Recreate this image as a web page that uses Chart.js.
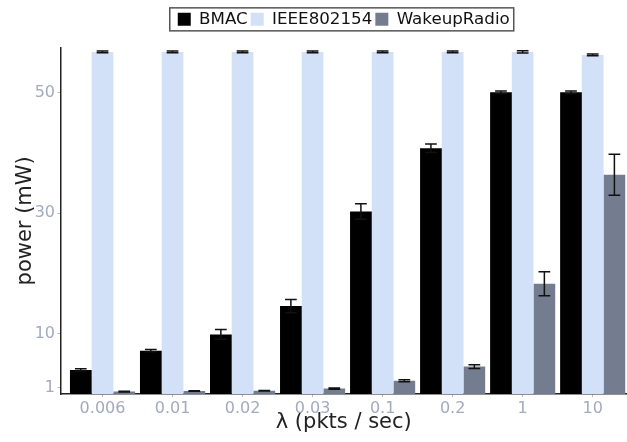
<!DOCTYPE html>
<html>
<head>
<meta charset="utf-8">
<title>power vs lambda</title>
<script src="https://cdn.jsdelivr.net/npm/chart.js@4.4.0/dist/chart.umd.min.js"></script>
<style>
  html, body { margin: 0; padding: 0; background: #fff; }
  .chart-box { width: 627px; height: 442px; }
</style>
</head>
<body>
<div class="chart-box"><canvas id="powerChart"></canvas></div>
<script>
// values
const rates = ['0.006', '0.01', '0.02', '0.03', '0.1', '0.2', '1', '10'];
const bmac = [4.0, 7.2, 9.9, 14.6, 30.3, 40.8, 50.1, 50.1];
const bmacErr = [0.2, 0.2, 0.8, 1.1, 1.3, 0.7, 0.2, 0.2];
const ieee = [56.8, 56.8, 56.8, 56.8, 56.8, 56.8, 56.8, 56.3];
const ieeeErr = [0.15, 0.15, 0.15, 0.15, 0.15, 0.15, 0.2, 0.15];
const wakeup = [0.4, 0.5, 0.55, 0.9, 2.2, 4.55, 18.3, 36.4];
const wakeupErr = [0.05, 0.05, 0.05, 0.1, 0.15, 0.3, 2.0, 3.4];
const yTicks = [1, 10, 30, 50];

const tickColor = '#a3aabf';
Chart.defaults.font.family = '"DejaVu Sans", sans-serif';

const toPoints = arr => arr.map((v, i) => ({ x: i, y: v }));

// error bars on top of every bar, placed with the chart's own scales
const errorBars = {
  id: 'errorBars',
  afterDatasetsDraw(chart) {
    const ctx = chart.ctx;
    const yScale = chart.scales.y;
    chart.data.datasets.forEach((ds, i) => {
      const meta = chart.getDatasetMeta(i);
      meta.data.forEach((bar, j) => {
        const v = ds.data[j].y;
        const e = ds.errors[j];
        const top = yScale.getPixelForValue(v + e);
        const bot = yScale.getPixelForValue(v - e);
        const half = bar.width * 0.27;
        ctx.save();
        ctx.strokeStyle = '#111';
        ctx.lineWidth = 1.5;
        ctx.beginPath();
        ctx.moveTo(bar.x, top); ctx.lineTo(bar.x, bot);
        ctx.moveTo(bar.x - half, top); ctx.lineTo(bar.x + half, top);
        ctx.moveTo(bar.x - half, bot); ctx.lineTo(bar.x + half, bot);
        ctx.stroke();
        ctx.restore();
      });
    });
  }
};

// thin frame around the legend items
const legendFrame = {
  id: 'legendFrame',
  afterDraw(chart) {
    const boxes = chart.legend.legendHitBoxes;
    if (!boxes || !boxes.length) return;
    const ctx = chart.ctx;
    const left = Math.min(...boxes.map(b => b.left)) - 8;
    const right = Math.max(...boxes.map(b => b.left + b.width)) + 4;
    const mid = boxes[0].top + boxes[0].height / 2;
    ctx.save();
    ctx.strokeStyle = '#555';
    ctx.lineWidth = 1.5;
    ctx.strokeRect(left, mid - 11.5, right - left, 23);
    ctx.restore();
  }
};

new Chart(document.getElementById('powerChart'), {
  type: 'bar',
  data: {
    datasets: [
      { label: 'BMAC', data: toPoints(bmac), errors: bmacErr, backgroundColor: '#000000', borderWidth: 0 },
      { label: 'IEEE802154', data: toPoints(ieee), errors: ieeeErr, backgroundColor: '#d2e1f8', borderWidth: 0 },
      { label: 'WakeupRadio', data: toPoints(wakeup), errors: wakeupErr, backgroundColor: '#737d8f', borderWidth: 0 }
    ]
  },
  options: {
    responsive: true,
    maintainAspectRatio: false,
    animation: false,
    events: [],
    categoryPercentage: 0.93,
    barPercentage: 1,
    layout: { padding: { top: 8, left: 0, right: 0, bottom: 0 } },
    plugins: {
      legend: {
        position: 'top',
        fullSize: false,
        labels: { boxWidth: 13, boxHeight: 13, padding: 3, color: '#111', font: { size: 16.7 } }
      },
      // empty title used as a spacer between legend and plot
      title: { display: true, text: '', weight: 500, padding: 0, font: { size: 10, lineHeight: 1 } },
      tooltip: { enabled: false }
    },
    scales: {
      x: {
        type: 'linear',
        offset: false,
        min: -0.6,
        max: 7.49,
        afterBuildTicks: scale => { scale.ticks = rates.map((r, i) => ({ value: i })); },
        afterFit: scale => { scale.height = 48; },
        ticks: {
          callback: v => rates[v],
          color: tickColor,
          autoSkip: false,
          maxRotation: 0,
          padding: 6.4,
          font: { size: 16, lineHeight: 0.7 }
        },
        grid: { offset: false, drawOnChartArea: false, drawTicks: true, tickLength: 3, color: '#bbb' },
        border: { display: true, color: '#222', width: 1.5 },
        title: {
          display: true,
          text: 'λ (pkts / sec)',
          color: '#222',
          font: { size: 21, lineHeight: 0.8 },
          padding: { top: 0, bottom: 10.6 }
        }
      },
      y: {
        min: 0,
        max: 57.5,
        afterBuildTicks: scale => { scale.ticks = yTicks.map(v => ({ value: v })); },
        afterFit: scale => { scale.width = 60.5; },
        ticks: { color: tickColor, padding: 2.5, font: { size: 16, lineHeight: 0.7 } },
        grid: { drawOnChartArea: false, drawTicks: true, tickLength: 3, color: '#bbb' },
        border: { display: true, color: '#222', width: 1.5 },
        title: {
          display: true,
          text: 'power (mW)',
          color: '#222',
          font: { size: 21, lineHeight: 0.8 },
          padding: { top: 17.6, bottom: 0.2 }
        }
      }
    }
  },
  plugins: [errorBars, legendFrame]
});
</script>
</body>
</html>
